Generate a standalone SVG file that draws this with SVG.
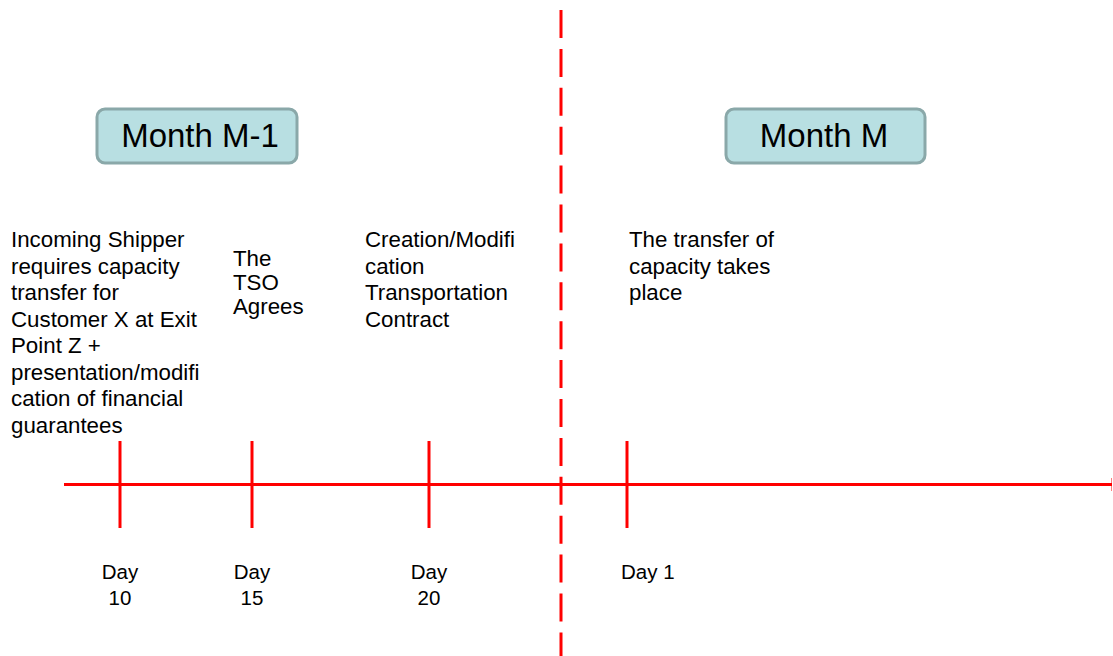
<svg xmlns="http://www.w3.org/2000/svg" width="1113" height="656" viewBox="0 0 1113 656">
<style>
.t{font-family:"Liberation Sans",Arial,sans-serif;font-size:22.3px;fill:#000}
.d{font-family:"Liberation Sans",Arial,sans-serif;font-size:20.5px;fill:#000}
.m{font-family:"Liberation Sans",Arial,sans-serif;font-size:33px;fill:#000}
.box{fill:#b8dfe2;stroke:#8aa8a9;stroke-width:3}
.red{stroke:#ff0000;stroke-width:3;fill:none}
</style>
<rect width="1113" height="656" fill="#fff"/>
<g id="connectors">
<line class="red" x1="64" y1="484.5" x2="1112" y2="484.5"/>
<line x1="1111.5" y1="478" x2="1111.5" y2="491" stroke="#ff0000" stroke-width="1" opacity="0.5"/>
<line class="red" x1="561" y1="10" x2="561" y2="656" stroke-dasharray="28 10.9"/>
<line class="red" x1="120" y1="441" x2="120" y2="528"/>
<line class="red" x1="252" y1="441" x2="252" y2="528"/>
<line class="red" x1="429" y1="441" x2="429" y2="528"/>
<line class="red" x1="627" y1="441" x2="627" y2="528"/>
</g>
<g id="month-m1">
<rect class="box" x="97" y="109" width="200" height="54" rx="8"/>
<text class="m" x="200" y="147" text-anchor="middle">Month M-1</text>
</g>
<g id="month-m">
<rect class="box" x="726" y="109" width="199" height="54" rx="8"/>
<text class="m" x="824" y="147" text-anchor="middle">Month M</text>
</g>
<g id="event-day10">
<text class="t" x="11" y="247">Incoming Shipper</text>
<text class="t" x="11" y="273.5">requires capacity</text>
<text class="t" x="11" y="300">transfer for</text>
<text class="t" x="11" y="326.5">Customer X at Exit</text>
<text class="t" x="11" y="353">Point Z +</text>
<text class="t" x="11" y="379.5">presentation/modifi</text>
<text class="t" x="11" y="406">cation of financial</text>
<text class="t" x="11" y="432.5">guarantees</text>
</g>
<g id="event-day15">
<text class="t" x="233" y="266">The</text>
<text class="t" x="233" y="290">TSO</text>
<text class="t" x="233" y="314">Agrees</text>
</g>
<g id="event-day20">
<text class="t" x="365" y="247">Creation/Modifi</text>
<text class="t" x="365" y="273.5">cation</text>
<text class="t" x="365" y="300">Transportation</text>
<text class="t" x="365" y="326.5">Contract</text>
</g>
<g id="event-day1">
<text class="t" x="629" y="247">The transfer of</text>
<text class="t" x="629" y="273.5">capacity takes</text>
<text class="t" x="629" y="300">place</text>
</g>
<g id="labels">
<text class="d" x="120" y="579" text-anchor="middle">Day</text>
<text class="d" x="120" y="605" text-anchor="middle">10</text>
<text class="d" x="252" y="579" text-anchor="middle">Day</text>
<text class="d" x="252" y="605" text-anchor="middle">15</text>
<text class="d" x="429" y="579" text-anchor="middle">Day</text>
<text class="d" x="429" y="605" text-anchor="middle">20</text>
<text class="d" x="621" y="579">Day 1</text>
</g>
</svg>
